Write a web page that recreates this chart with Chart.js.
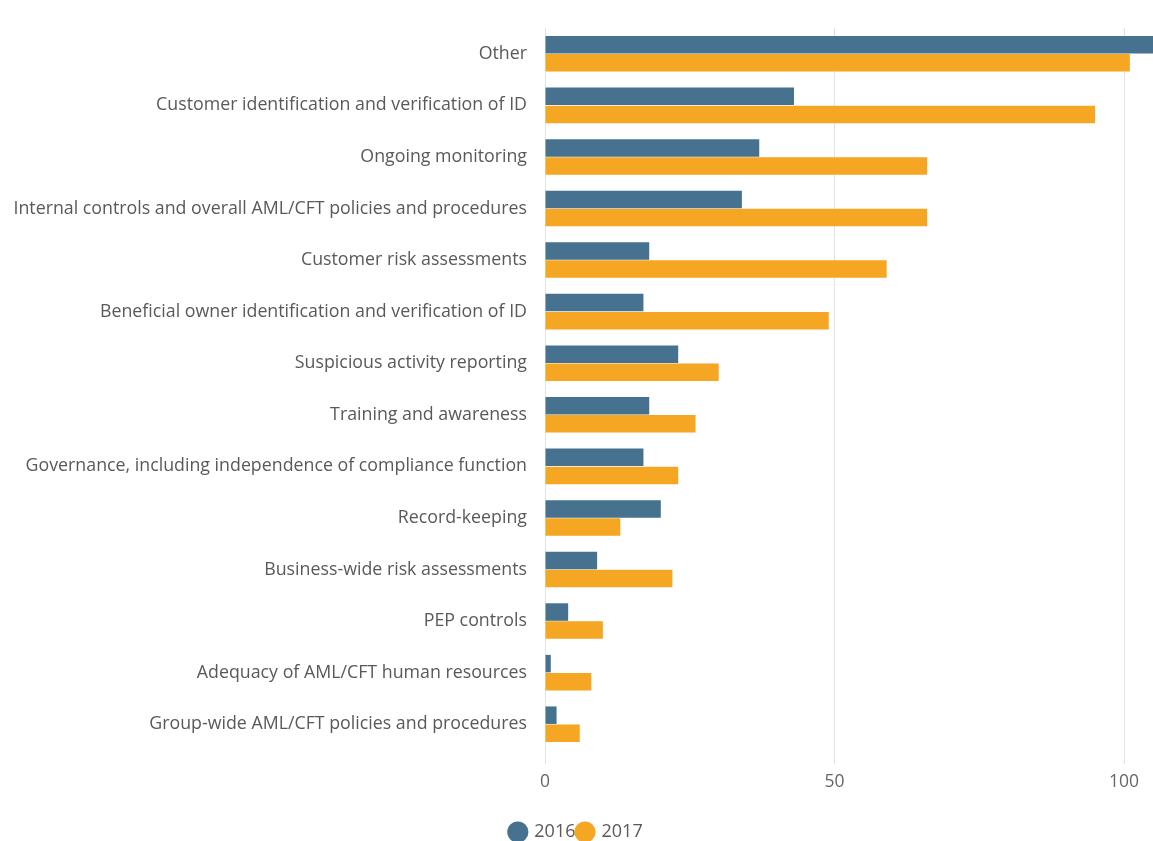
<!DOCTYPE html>
<html>
<head>
<meta charset="utf-8">
<script src="https://cdn.jsdelivr.net/npm/chart.js@4"></script>
<style>
  html, body { margin: 0; padding: 0; background: #fff; }
  #wrap { width: 1153px; height: 841px; position: relative; }
</style>
</head>
<body>
<div id="wrap"><canvas id="chart"></canvas></div>
<script>
const categories = [
    'Other',
    'Customer identification and verification of ID',
    'Ongoing monitoring',
    'Internal controls and overall AML/CFT policies and procedures',
    'Customer risk assessments',
    'Beneficial owner identification and verification of ID',
    'Suspicious activity reporting',
    'Training and awareness',
    'Governance, including independence of compliance function',
    'Record-keeping',
    'Business-wide risk assessments',
    'PEP controls',
    'Adequacy of AML/CFT human resources',
    'Group-wide AML/CFT policies and procedures'
];
const values2016 = [105, 43, 37, 34, 18, 17, 23, 18, 17, 20, 9, 4, 1, 2];
const values2017 = [101, 95, 66, 66, 59, 49, 30, 26, 23, 13, 22, 10, 8, 6];
const tickValues = [0, 50, 100];

const ctx = document.getElementById('chart').getContext('2d');
new Chart(ctx, {
    type: 'bar',
    data: {
        labels: categories,
        datasets: [
            { label: '2016', data: values2016, backgroundColor: '#46728f', categoryPercentage: 0.7, barPercentage: 0.97 },
            { label: '2017', data: values2017, backgroundColor: '#f5a623', categoryPercentage: 0.7, barPercentage: 0.97 }
        ]
    },
    options: {
        indexAxis: 'y',
        responsive: true,
        maintainAspectRatio: false,
        animation: false,
        layout: { padding: { top: 28, right: 0, bottom: -10, left: 0 } },
        plugins: {
            tooltip: { enabled: false },
            legend: {
                position: 'bottom',
                labels: {
                    usePointStyle: true,
                    pointStyle: 'circle',
                    boxWidth: 15,
                    boxHeight: 15,
                    padding: 2,
                    color: '#595959',
                    font: { family: 'Open Sans', size: 18 }
                }
            }
        },
        scales: {
            x: {
                min: 0,
                max: 105,
                afterBuildTicks: (scale) => { scale.ticks = tickValues.map(v => ({ value: v })); },
                grid: { color: '#e3e3e3', drawTicks: true, tickLength: 14 },
                border: { display: false },
                ticks: { color: '#666', font: { family: 'Open Sans', size: 17.5 }, padding: 8 },
                afterFit: (scale) => { scale.height = 71; }
            },
            y: {
                grid: { display: false },
                border: { display: false },
                ticks: { color: '#595959', font: { family: 'Open Sans', size: 17.8 }, padding: 10, autoSkip: false },
                afterFit: (scale) => { scale.width = 545; }
            }
        }
    }
});
</script>
</body>
</html>
